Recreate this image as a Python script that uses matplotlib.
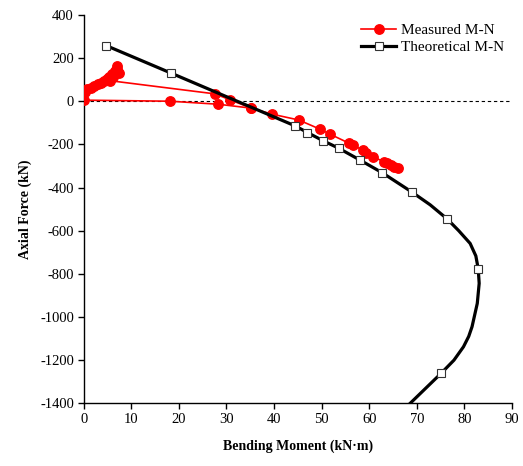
import matplotlib
matplotlib.use("Agg")
import matplotlib.pyplot as plt
import numpy as np

plt.rcParams['font.family'] = ['Liberation Serif', 'DejaVu Serif']
plt.rcParams['axes.unicode_minus'] = False

# Measured M-N (main path)
meas_M = [0.2, 0.8, 1.5, 2.2, 3.0, 3.6, 4.2, 4.8, 5.4, 6.0, 6.5, 6.9, 7.1, 7.4, 6.2, 5.6,
          27.6, 30.8, 35.2, 39.6, 45.2, 49.7, 51.7, 55.8, 56.6, 58.6, 59.3, 60.8, 63.0,
          63.8, 64.6, 65.3, 66.0]
meas_N = [45, 55, 63, 72, 80, 86, 93, 102, 112, 124, 138, 150, 162, 132, 110, 95,
          34, 6, -32, -60, -87, -130, -152, -195, -205, -225, -238, -257, -280,
          -288, -296, -303, -311]
# Measured M-N (initial branch)
meas2_M = [0.0, 18.2, 28.3, 35.2]
meas2_N = [5, 0, -14, -32]

# Theoretical M-N curve
theo_M = [4.7, 18.4, 44.5, 47.0, 50.3, 53.6, 58.0, 62.7, 68.9, 72.8, 76.4, 78.8, 81.2,
          82.4, 82.9, 83.1, 82.7, 81.6, 80.9, 79.8, 77.8, 75.1, 68.6]
theo_N = [258, 130, -115, -145, -183, -218, -272, -331, -420, -480, -546, -600, -659,
          -717, -777, -844, -937, -1045, -1090, -1138, -1200, -1261, -1400]
theo_marks = [0, 1, 2, 3, 4, 5, 6, 7, 8, 10, 14, 21]

fig = plt.figure(figsize=(5.23, 4.66), dpi=100)
ax = fig.add_axes([0.16, 0.1345, 0.819, 0.8335])

ax.axhline(0, color='black', lw=0.8, ls=(0, (3, 2.5)), zorder=1)

ax.plot(meas2_M, meas2_N, color='#ff0000', lw=1.2, marker='o', ms=6.8,
        mfc='#ff0000', mec='#ff0000', zorder=3)
ax.plot(meas_M, meas_N, color='#ff0000', lw=1.2, marker='o', ms=6.8,
        mfc='#ff0000', mec='#ff0000', zorder=3, label='Measured M-N')
ax.plot(theo_M, theo_N, color='black', lw=2.3, marker='s', ms=6, mfc='white',
        mec='#333333', mew=0.8, markevery=theo_marks, zorder=4, label='Theoretical M-N')

ax.set_xlim(0, 90)
ax.set_ylim(-1400, 400)
ax.set_xticks(np.arange(0, 91, 10))
ax.set_yticks(np.arange(-1400, 401, 200))
ax.spines['top'].set_visible(False)
ax.spines['right'].set_visible(False)
for s in ['left', 'bottom']:
    ax.spines[s].set_linewidth(1.0)
ax.tick_params(direction='out', length=4, width=1.0, labelsize=10.5, pad=3)

ax.set_xlabel('Bending Moment (kN·m)', fontsize=10, fontweight='bold', labelpad=10)
ax.set_ylabel('Axial Force (kN)', fontsize=10, fontweight='bold', labelpad=6)

ax.legend(loc='upper right', bbox_to_anchor=(1.01, 1.01), frameon=False, fontsize=11,
          handlelength=2.3, handletextpad=0.3, labelspacing=0.25, borderpad=0.3)

fig.savefig('out.png', dpi=100)
